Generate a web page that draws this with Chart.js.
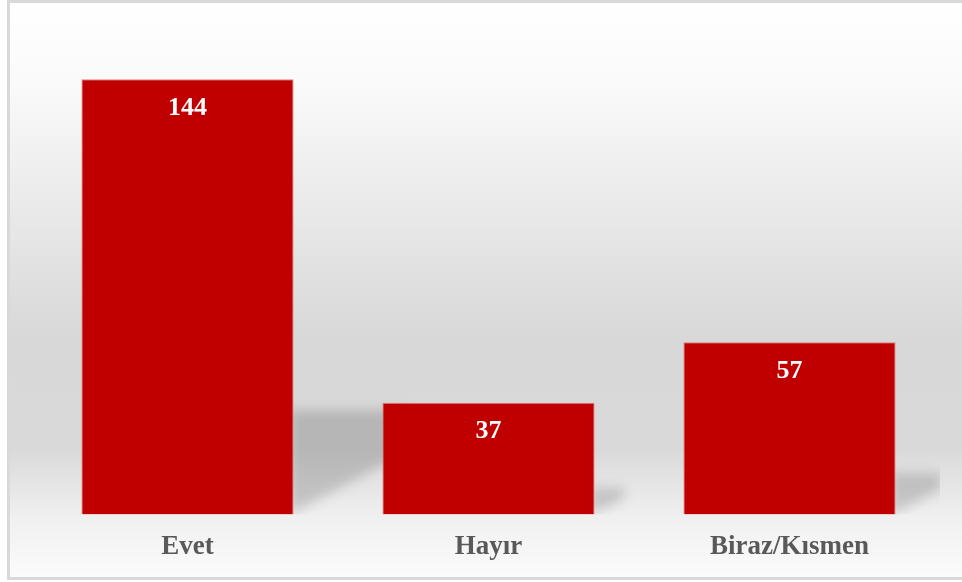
<!DOCTYPE html>
<html>
<head>
<meta charset="utf-8">
<script src="https://cdn.jsdelivr.net/npm/chart.js@4"></script>
<style>
  html, body { margin: 0; padding: 0; background: #fff; }
  #wrap { width: 962px; height: 582px; }
</style>
</head>
<body>
<div id="wrap"><canvas id="answerChart" width="962" height="582"></canvas></div>
<script>
const categories = ['Evet', 'Hayır', 'Biraz/Kısmen'];
const answerCounts = [144, 37, 57];

// panel background + frame
const panelBackground = {
  id: 'panelBackground',
  beforeDraw(chart) {
    const ctx = chart.ctx;
    const g = ctx.createLinearGradient(0, 0, 0, chart.height);
    g.addColorStop(0, '#ffffff');
    g.addColorStop(0.14, '#fafafa');
    g.addColorStop(0.3, '#eeeeee');
    g.addColorStop(0.58, '#d8d8d8');
    g.addColorStop(0.77, '#d9d9d9');
    g.addColorStop(0.89, '#f0f0f0');
    g.addColorStop(1, '#fcfcfc');
    ctx.save();
    ctx.fillStyle = g;
    ctx.fillRect(8, 1, chart.width - 8, chart.height - 4);
    ctx.strokeStyle = '#d9d9d9';
    ctx.lineWidth = 3;
    ctx.beginPath();
    ctx.moveTo(chart.width + 2, 1.5);
    ctx.lineTo(8.5, 1.5);
    ctx.lineTo(8.5, chart.height - 3.5);
    ctx.lineTo(chart.width + 2, chart.height - 3.5);
    ctx.stroke();
    ctx.restore();
  }
};

// soft perspective shadow behind each bar
const barShadows = {
  id: 'barShadows',
  beforeDatasetsDraw(chart) {
    const ctx = chart.ctx;
    const area = chart.chartArea;
    ctx.save();
    ctx.beginPath();
    ctx.rect(area.left, area.top, area.right - area.left, area.bottom - area.top);
    ctx.clip();
    ctx.filter = 'blur(6px)';
    ctx.fillStyle = 'rgba(0,0,0,0.16)';
    chart.getDatasetMeta(0).data.forEach(bar => {
      const xR = bar.x + bar.width / 2;
      const h = bar.base - bar.y;
      const s = h * 0.24;
      const w = s * 1.1;
      ctx.beginPath();
      ctx.moveTo(xR - 4, bar.base);
      ctx.lineTo(xR - 4, bar.base - s);
      ctx.lineTo(xR + w, bar.base - s);
      ctx.lineTo(xR + w, bar.base - w * 0.55);
      ctx.closePath();
      ctx.fill();
    });
    ctx.restore();
  }
};

// value labels inside the top of the bars
const valueLabels = {
  id: 'valueLabels',
  afterDatasetsDraw(chart) {
    const ctx = chart.ctx;
    ctx.save();
    ctx.font = 'bold 26px "Liberation Serif", "Times New Roman", serif';
    ctx.fillStyle = '#ffffff';
    ctx.textAlign = 'center';
    ctx.textBaseline = 'middle';
    chart.getDatasetMeta(0).data.forEach((bar, i) => {
      ctx.fillText(String(answerCounts[i]), bar.x, bar.y + 29);
    });
    ctx.restore();
  }
};

new Chart(document.getElementById('answerChart').getContext('2d'), {
  type: 'bar',
  data: {
    labels: categories,
    datasets: [{
      data: answerCounts,
      backgroundColor: '#c00000',
      borderColor: '#e08080',
      borderWidth: 1,
      barPercentage: 0.705,
      categoryPercentage: 1
    }]
  },
  options: {
    responsive: false,
    animation: false,
    layout: { padding: { left: 37, right: 22, top: 31, bottom: 3 } },
    plugins: {
      legend: { display: false },
      tooltip: { enabled: false }
    },
    scales: {
      x: {
        grid: { display: false, drawTicks: false, tickLength: 0 },
        border: { display: false },
        ticks: {
          padding: 16,
          color: '#595959',
          font: { family: '"Liberation Serif", "Times New Roman", serif', size: 27, weight: 'bold' }
        }
      },
      y: {
        display: false,
        min: 0,
        max: 160
      }
    }
  },
  plugins: [panelBackground, barShadows, valueLabels]
});
</script>
</body>
</html>
